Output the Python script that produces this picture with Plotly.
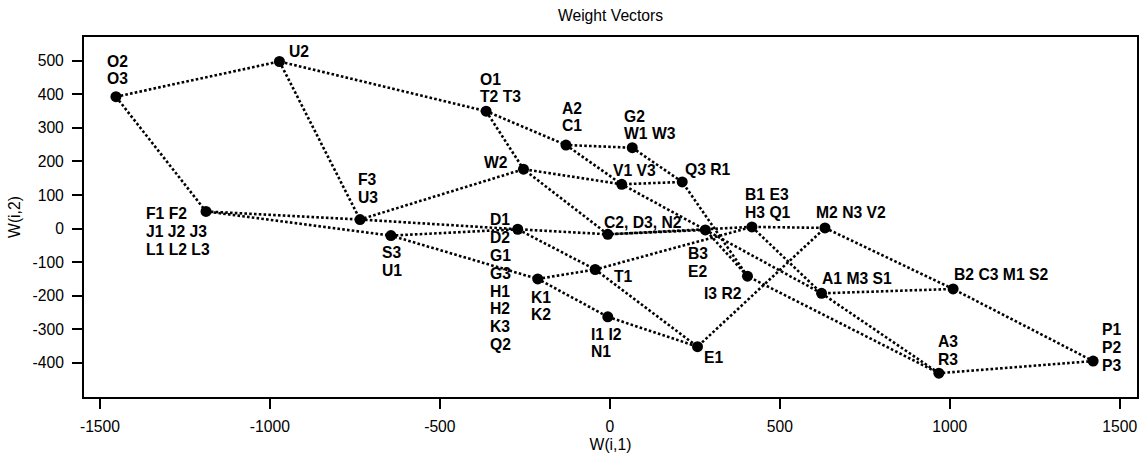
import plotly.graph_objects as go

# 5x5 grid of weight vectors (row-major), labels of mapped items
node_labels = [
    "O2\nO3", "U2", "O1\nT2 T3", "A2\nC1", "G2\nW1 W3",
    "F1 F2\nJ1 J2 J3\nL1 L2 L3", "F3\nU3", "W2", "V1 V3", "Q3 R1",
    "S3\nU1", "D1\nD2\nG1\nG3\nH1\nH2\nK3\nQ2", "C2, D3, N2", "B3\nE2", "I3 R2",
    "K1\nK2", "T1", "B1 E3\nH3 Q1", "A1 M3 S1", "A3\nR3",
    "I1 I2\nN1", "E1", "M2 N3 V2", "B2 C3 M1 S2", "P1\nP2\nP3",
]
w1 = [-1453, -972, -364, -129, 66,
      -1188, -735, -254, 35, 213,
      -644, -271, -6, 281, 405,
      -212, -43, 418, 623, 968,
      -6, 258, 633, 1010, 1422]
w2 = [393, 498, 350, 249, 241,
      51, 27, 177, 132, 139,
      -21, -2, -17, -4, -142,
      -150, -122, 5, -193, -431,
      -263, -352, 2, -180, -395]
grid_n = 5
x_ticks = [-1500, -1000, -500, 0, 500, 1000, 1500]
y_ticks = [-400, -300, -200, -100, 0, 100, 200, 300, 400, 500]

# label placement (pixels: left edge dx, first-line centre dy)
label_offsets = [
    (-9, -35.7), (10, -9.6), (-5.7, -32), (-4.4, -37), (-8.3, -31.7),
    (-59.6, 2), (-2.3, -40), (-39.7, -6.2), (-8.4, -13.3), (2.5, -12.5),
    (-9.3, 16.6), (-27.3, -9.3), (-3.7, -11.8), (-17.4, 24), (-43, 17),
    (-6.6, 18.1), (19, 7.2), (-6.6, -32.7), (0, -15), (-1, -31.6),
    (-16.4, 17.3), (6.3, 10.8), (-9, -15.7), (0.7, -14), (9.3, -31.7),
]
LINE_SP = 17.8
FONT = "Liberation Sans, Arial, sans-serif"
FS = 15.7

fig = go.Figure()
line_style = dict(color="black", width=2.6, dash="2.6px,2.2px")
for r in range(grid_n):
    idx = [r * grid_n + c for c in range(grid_n)]
    fig.add_trace(go.Scatter(x=[w1[i] for i in idx], y=[w2[i] for i in idx],
                             mode="lines", line=line_style, hoverinfo="skip"))
for c in range(grid_n):
    idx = [r * grid_n + c for r in range(grid_n)]
    fig.add_trace(go.Scatter(x=[w1[i] for i in idx], y=[w2[i] for i in idx],
                             mode="lines", line=line_style, hoverinfo="skip"))
fig.add_trace(go.Scatter(x=w1, y=w2, mode="markers",
                         marker=dict(color="black", size=11)))

for i, lab in enumerate(node_labels):
    dx, dy = label_offsets[i]
    for k, line in enumerate(lab.split("\n")):
        fig.add_annotation(x=w1[i], y=w2[i], xref="x", yref="y", text=line,
                           showarrow=False, xanchor="left", yanchor="middle",
                           xshift=dx - 1, yshift=-(dy + k * LINE_SP), borderpad=0,
                           font=dict(family=FONT, size=FS, color="black", weight="bold"))

axis_common = dict(showline=True, linecolor="black", linewidth=2, mirror=True,
                   ticks="outside", ticklen=10, tickwidth=2, tickcolor="black",
                   showgrid=False, zeroline=False,
                   tickfont=dict(family=FONT, size=FS, color="black"))
fig.update_layout(
    width=1141, height=455, autosize=False,
    margin=dict(l=84, r=2, t=37, b=58),
    plot_bgcolor="white", paper_bgcolor="white", showlegend=False,
    title=dict(text="Weight Vectors", x=0.5, xref="paper", y=1 - 16 / 455,
               yref="container", yanchor="middle", xanchor="center",
               font=dict(family=FONT, size=FS, color="black")),
    xaxis=dict(range=[-1547, 1551], tickvals=x_ticks,
               ticktext=[str(v) for v in x_ticks], ticklabelstandoff=4,
               title=dict(text="W(i,1)", standoff=5, font=dict(family=FONT, size=FS, color="black")),
               **axis_common),
    yaxis=dict(range=[-502, 571], tickvals=y_ticks,
               ticktext=[str(v) for v in y_ticks], ticklabelstandoff=5,
               title=dict(text="W(i,2)", standoff=8, font=dict(family=FONT, size=FS, color="black")),
               **axis_common),
)
fig.write_html("out.html")
